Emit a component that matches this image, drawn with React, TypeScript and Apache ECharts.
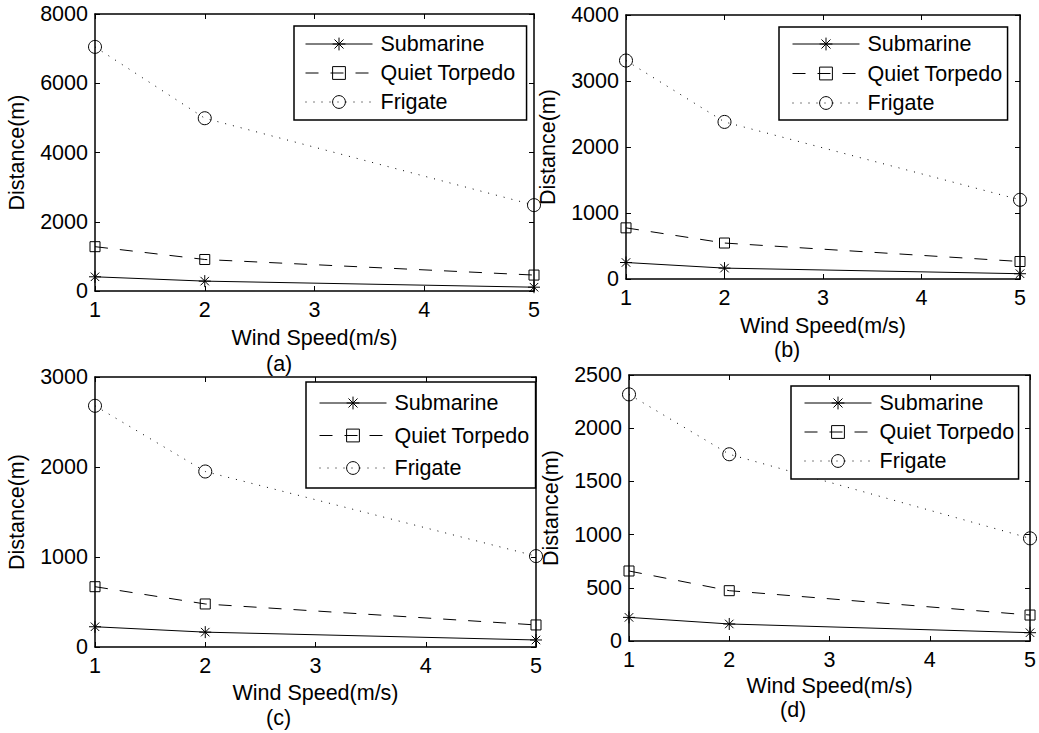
import React, { useEffect, useRef } from "react";
import * as echarts from "echarts";

const windSpeeds = [1, 2, 5];
const xTicks = { min: 1, max: 5, interval: 1 };
const seriesNames = ["Submarine", "Quiet Torpedo", "Frigate"];

const subA = [410, 285, 110];
const qtA = [1280, 910, 460];
const frA = [7050, 4990, 2480];

const subB = [250, 165, 80];
const qtB = [775, 545, 265];
const frB = [3310, 2380, 1200];

const subC = [225, 165, 78];
const qtC = [670, 478, 245];
const frC = [2680, 1950, 1010];

const subD = [222, 160, 78];
const qtD = [658, 473, 244];
const frD = [2318, 1755, 965];

const yMaxes = [8000, 4000, 3000, 2500];
const yIntervals = [2000, 1000, 1000, 500];
const panelLabels = ["(a)", "(b)", "(c)", "(d)"];

const FONT = "Liberation Sans, Arial, Helvetica, sans-serif";
const FS = 21.5;

const panels = [
  { data: [subA, qtA, frA], grid: { left: 95, top: 14, width: 439, height: 277 }, legend: { left: 294, top: 26, padding: [7, 11, 7, 11], gap: 7 }, label: [278, 364], xGap: 36 },
  { data: [subB, qtB, frB], grid: { left: 626, top: 15, width: 394, height: 264 }, legend: { left: 779, top: 27, padding: [6, 5, 6, 13], gap: 7.5 }, label: [786, 350], xGap: 36 },
  { data: [subC, qtC, frC], grid: { left: 95, top: 377, width: 441, height: 270 }, legend: { left: 306, top: 382, padding: [10, 6, 9, 13], gap: 10.5 }, label: [278, 718], xGap: 35 },
  { data: [subD, qtD, frD], grid: { left: 629, top: 375, width: 402, height: 266 }, legend: { left: 791, top: 386, padding: [6, 4, 7, 13], gap: 7 }, label: [792, 710], xGap: 34 },
];

const ASTERISK = "path://M0,-10 L0,10 M-10,0 L10,0 M-7.07,-7.07 L7.07,7.07 M-7.07,7.07 L7.07,-7.07";
const styles = [
  { symbol: ASTERISK, size: 12, line: "solid" as any },
  { symbol: "rect", size: 10, line: [13, 12] as any },
  { symbol: "circle", size: 13, line: [1, 7] as any },
];

const plain = (v: number) => String(v);

export default function App() {
  const ref = useRef<HTMLDivElement>(null);
  useEffect(() => {
    document.body.style.margin = "0";
    if (!ref.current) return;
    const chart = echarts.init(ref.current, null, { renderer: "svg" });
    const grid: any[] = [];
    const xAxis: any[] = [];
    const yAxis: any[] = [];
    const series: any[] = [];
    const legend: any[] = [];
    const graphic: any[] = [];
    const axisLine = { show: true, onZero: false, lineStyle: { color: "#000", width: 1.5 } };
    const axisTick = { show: true, inside: true, length: 5, lineStyle: { color: "#000", width: 1 } };
    panels.forEach((p, i) => {
      grid.push({ ...p.grid, containLabel: false });
      xAxis.push({
        type: "value", gridIndex: i, position: "bottom", ...xTicks,
        name: "Wind Speed(m/s)", nameLocation: "middle", nameGap: p.xGap,
        nameTextStyle: { fontFamily: FONT, fontSize: FS, color: "#000" },
        axisLine, axisTick, splitLine: { show: false },
        axisLabel: { fontFamily: FONT, fontSize: FS, color: "#000", margin: 8, formatter: plain },
      });
      xAxis.push({
        type: "value", gridIndex: i, position: "top", ...xTicks,
        axisLine, axisTick, splitLine: { show: false }, axisLabel: { show: false },
      });
      yAxis.push({
        type: "value", gridIndex: i, position: "left", min: 0, max: yMaxes[i], interval: yIntervals[i],
        name: "Distance(m)", nameLocation: "middle", nameGap: 67,
        nameTextStyle: { fontFamily: FONT, fontSize: FS, color: "#000" },
        axisLine, axisTick, splitLine: { show: false },
        axisLabel: { fontFamily: FONT, fontSize: FS, color: "#000", margin: 7, formatter: plain },
      });
      yAxis.push({
        type: "value", gridIndex: i, position: "right", min: 0, max: yMaxes[i], interval: yIntervals[i],
        axisLine, axisTick, splitLine: { show: false }, axisLabel: { show: false },
      });
      p.data.forEach((vals, k) => {
        const st = styles[k];
        series.push({
          type: "line", name: seriesNames[k],
          xAxisIndex: i * 2, yAxisIndex: i * 2,
          data: windSpeeds.map((x, j) => [x, vals[j]]),
          symbol: st.symbol, symbolSize: st.size, showSymbol: true,
          lineStyle: { color: "#000", width: 1, type: st.line },
          itemStyle: { color: "transparent", borderColor: "#000", borderWidth: 1 },
          emphasis: { disabled: true },
          z: 3,
        });
      });
      legend.push({
        left: p.legend.left, top: p.legend.top, orient: "vertical",
        padding: p.legend.padding, itemGap: p.legend.gap,
        itemWidth: 67, itemHeight: 16,
        borderColor: "#000", borderWidth: 1.5, backgroundColor: "#fff",
        selectedMode: false,
        data: seriesNames,
        lineStyle: { width: 1 },
        itemStyle: { borderWidth: 1 },
        textStyle: { fontFamily: FONT, fontSize: FS, color: "#000", lineHeight: 20, padding: [0, 0, 0, 3] },
      });
      graphic.push({
        type: "text", left: p.label[0] - 12, top: p.label[1] - 11,
        style: { text: panelLabels[i], fontFamily: FONT, fontSize: FS, fill: "#000" },
      });
    });
    chart.setOption({
      animation: false,
      backgroundColor: "#fff",
      grid, xAxis, yAxis, series, legend, graphic,
    });
    return () => chart.dispose();
  }, []);
  return <div ref={ref} style={{ width: 1039, height: 733 }} />;
}
